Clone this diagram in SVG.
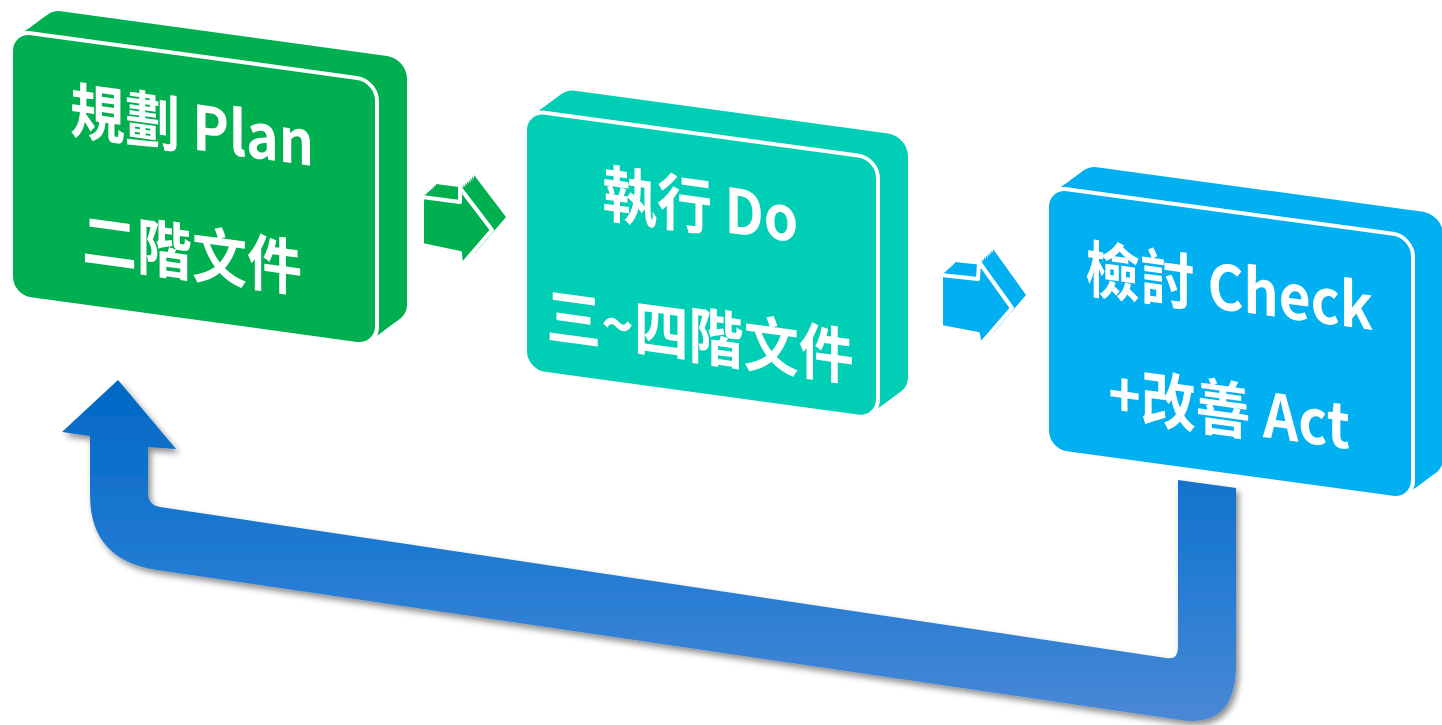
<svg xmlns="http://www.w3.org/2000/svg" xmlns:xlink="http://www.w3.org/1999/xlink" width="1442" height="725" viewBox="0 0 1442 725">
<style>
.g{fill:#00B050}
.t{fill:#00CFB5}
.b{fill:#00B0F0}
.front{stroke:#FFFFFF;stroke-width:4;stroke-linejoin:round}
.lbl{font-family:"Noto Sans CJK TC","Noto Sans CJK SC",sans-serif;font-weight:bold;font-size:55px;fill:#FFFFFF;text-anchor:middle}
</style>
<defs>
<rect id="faceG" x="11" y="29" width="366" height="266" rx="20"/>
<rect id="faceT" x="525" y="38" width="353" height="261" rx="20"/>
<rect id="faceB" x="1047" y="43" width="366" height="264" rx="20"/>
<polygon id="arrG" points="422,197 460,202 460,188 492,230 461,266 460,253 422,245"/>
<polygon id="arrB" points="941,275 978,279 979,262 1012,308 980,345 978,334 941,327"/>
<linearGradient id="retGrad" x1="0" y1="0" x2="0" y2="1">
<stop offset="0" stop-color="#0068C4"/>
<stop offset="0.55" stop-color="#227BD2"/>
<stop offset="1" stop-color="#4A88D6"/>
</linearGradient>
<filter id="shadow" x="-5%" y="-5%" width="110%" height="115%">
<feDropShadow dx="3" dy="4" stdDeviation="3" flood-color="#000000" flood-opacity="0.45"/>
</filter>
</defs>

<g id="connectors">
<g id="arrow-plan-do" class="g">
<use xlink:href="#arrG" transform="translate(14,-13)"/>
<use xlink:href="#arrG" transform="translate(12.25,-11.4)"/>
<use xlink:href="#arrG" transform="translate(10.5,-9.75)"/>
<use xlink:href="#arrG" transform="translate(8.75,-8.1)"/>
<use xlink:href="#arrG" transform="translate(7,-6.5)"/>
<use xlink:href="#arrG" transform="translate(5.25,-4.9)"/>
<use xlink:href="#arrG" transform="translate(3.5,-3.25)"/>
<use xlink:href="#arrG" transform="translate(1.75,-1.6)"/>
<use xlink:href="#arrG" class="front"/>
</g>
<g id="arrow-do-check" class="b">
<use xlink:href="#arrB" transform="translate(14,-13)"/>
<use xlink:href="#arrB" transform="translate(12.25,-11.4)"/>
<use xlink:href="#arrB" transform="translate(10.5,-9.75)"/>
<use xlink:href="#arrB" transform="translate(8.75,-8.1)"/>
<use xlink:href="#arrB" transform="translate(7,-6.5)"/>
<use xlink:href="#arrB" transform="translate(5.25,-4.9)"/>
<use xlink:href="#arrB" transform="translate(3.5,-3.25)"/>
<use xlink:href="#arrB" transform="translate(1.75,-1.6)"/>
<use xlink:href="#arrB" class="front"/>
</g>
<path id="arrow-return" fill="url(#retGrad)" filter="url(#shadow)" d="M118,380 L176,449 L148,447 L148,493 Q148,505 160,507 L1166,658 Q1178,660 1178,648 L1178,480 L1236,488 L1236,665 Q1236,728 1180,720 L157,570 Q90,560 90,495 L90,436 L62,432 Z"/>
</g>

<g id="plan" transform="skewY(7.8)">
<g class="g">
<use xlink:href="#faceG" transform="translate(30,-26.1)"/>
<use xlink:href="#faceG" transform="translate(27,-23.5)"/>
<use xlink:href="#faceG" transform="translate(24,-20.9)"/>
<use xlink:href="#faceG" transform="translate(21,-18.3)"/>
<use xlink:href="#faceG" transform="translate(18,-15.7)"/>
<use xlink:href="#faceG" transform="translate(15,-13)"/>
<use xlink:href="#faceG" transform="translate(12,-10.4)"/>
<use xlink:href="#faceG" transform="translate(9,-7.8)"/>
<use xlink:href="#faceG" transform="translate(6,-5.2)"/>
<use xlink:href="#faceG" transform="translate(3,-2.6)"/>
<use xlink:href="#faceG" class="front"/>
</g>
<text class="lbl" transform="translate(192,123) scale(1,1.12)">規劃 Plan</text>
<text class="lbl" transform="translate(192,250) scale(1,1.12)">二階文件</text>
</g>

<g id="do" transform="skewY(7.8)">
<g class="t">
<use xlink:href="#faceT" transform="translate(30,-26.1)"/>
<use xlink:href="#faceT" transform="translate(27,-23.5)"/>
<use xlink:href="#faceT" transform="translate(24,-20.9)"/>
<use xlink:href="#faceT" transform="translate(21,-18.3)"/>
<use xlink:href="#faceT" transform="translate(18,-15.7)"/>
<use xlink:href="#faceT" transform="translate(15,-13)"/>
<use xlink:href="#faceT" transform="translate(12,-10.4)"/>
<use xlink:href="#faceT" transform="translate(9,-7.8)"/>
<use xlink:href="#faceT" transform="translate(6,-5.2)"/>
<use xlink:href="#faceT" transform="translate(3,-2.6)"/>
<use xlink:href="#faceT" class="front"/>
</g>
<text class="lbl" transform="translate(700,133) scale(1,1.12)">執行 Do</text>
<text class="lbl" transform="translate(700,263) scale(1,1.12)">三~四階文件</text>
</g>

<g id="check" transform="skewY(7.8)">
<g class="b">
<use xlink:href="#faceB" transform="translate(30,-26.1)"/>
<use xlink:href="#faceB" transform="translate(27,-23.5)"/>
<use xlink:href="#faceB" transform="translate(24,-20.9)"/>
<use xlink:href="#faceB" transform="translate(21,-18.3)"/>
<use xlink:href="#faceB" transform="translate(18,-15.7)"/>
<use xlink:href="#faceB" transform="translate(15,-13)"/>
<use xlink:href="#faceB" transform="translate(12,-10.4)"/>
<use xlink:href="#faceB" transform="translate(9,-7.8)"/>
<use xlink:href="#faceB" transform="translate(6,-5.2)"/>
<use xlink:href="#faceB" transform="translate(3,-2.6)"/>
<use xlink:href="#faceB" class="front"/>
</g>
<text class="lbl" transform="translate(1229,142) scale(1,1.12)">檢討 Check</text>
<text class="lbl" transform="translate(1229,264) scale(1,1.12)">+改善 Act</text>
</g>
</svg>
